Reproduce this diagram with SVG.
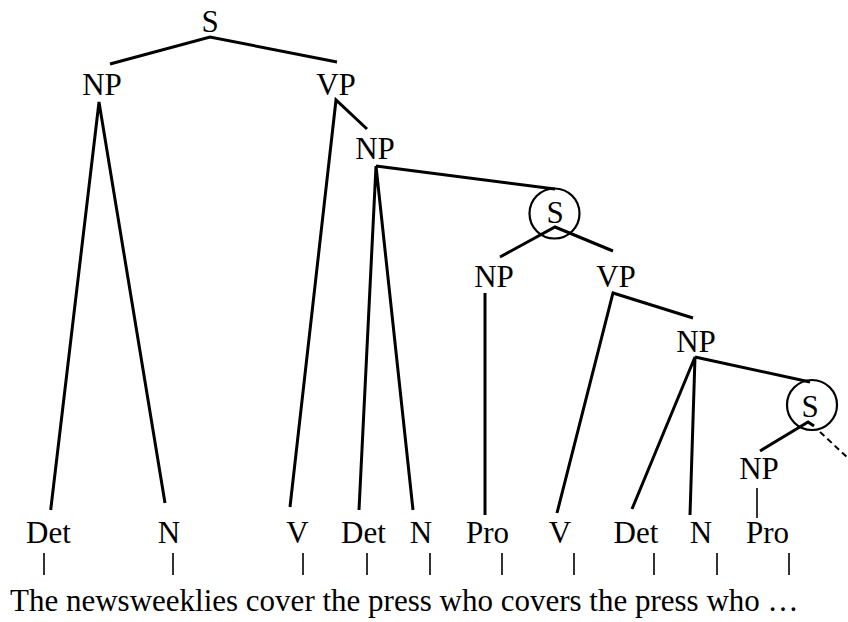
<svg xmlns="http://www.w3.org/2000/svg" width="848" height="622" viewBox="0 0 848 622">
<style>
text{font-family:"Liberation Serif","Times New Roman",serif;font-size:31px;fill:#000;text-anchor:middle}
.e{stroke:#000;stroke-width:3;fill:none;stroke-linecap:butt}
.t{stroke:#000;stroke-width:1.6;fill:none}
.c{stroke:#000;stroke-width:2.2;fill:none}
.d{stroke:#000;stroke-width:2;fill:none;stroke-dasharray:6 4}
</style>
<rect width="848" height="622" fill="#fff"/>
<g id="connectors">
<path class="e" d="M110 64 L210 37 L337 62"/>
<path class="e" d="M50.7 510 L99 102 L165 503"/>
<path class="e" d="M290 507 L336 100 L367 129"/>
<path class="e" d="M359 510 L376 166 L413 510"/>
<path class="e" d="M376 166 L555 189"/>
<path class="e" d="M500 257 L555 227 L613 251"/>
<path class="e" d="M485 293 L485 515"/>
<path class="e" d="M557 513 L613 293 L693 318"/>
<path class="e" d="M632 509 L695 357 L690 515"/>
<path class="e" d="M695 357 L810 382"/>
<path class="e" d="M760 451 L808 422 L814 426"/>
<path class="d" d="M820 432 L848 458"/>
<path class="t" d="M757 488 L757 518"/>
<g class="t">
<path d="M44 553V575M173 553V575M303 553V575M367 553V575M430 553V575M502 553V575M574 553V575M654 553V575M717 553V575M789 553V575"/>
</g>
</g>
<g id="S"><text x="210" y="32">S</text></g>
<g id="NP1"><text x="102" y="95">NP</text></g>
<g id="VP1"><text x="336" y="95">VP</text></g>
<g id="NP2"><text x="375" y="159">NP</text></g>
<g id="S1"><circle class="c" cx="554.5" cy="213.5" r="25"/><text x="555" y="223">S</text></g>
<g id="NP3"><text x="494" y="287">NP</text></g>
<g id="VP3"><text x="616" y="287">VP</text></g>
<g id="NP4"><text x="696" y="352">NP</text></g>
<g id="S2"><circle class="c" cx="812" cy="405" r="25"/><text x="810" y="417">S</text></g>
<g id="NP5"><text x="759" y="479">NP</text></g>
<g id="Det1"><text x="48.5" y="543">Det</text></g>
<g id="N1"><text x="169" y="543">N</text></g>
<g id="V1"><text x="297.5" y="543">V</text></g>
<g id="Det2"><text x="363.5" y="543">Det</text></g>
<g id="N2"><text x="421" y="543">N</text></g>
<g id="Pro1"><text x="487.5" y="543">Pro</text></g>
<g id="V2"><text x="560" y="543">V</text></g>
<g id="Det3"><text x="636" y="543">Det</text></g>
<g id="N3"><text x="701" y="543">N</text></g>
<g id="Pro2"><text x="767.5" y="543">Pro</text></g>
<g id="sentence"><text x="10" y="611" style="text-anchor:start">The newsweeklies cover the press who covers the press who …</text></g>
</svg>
